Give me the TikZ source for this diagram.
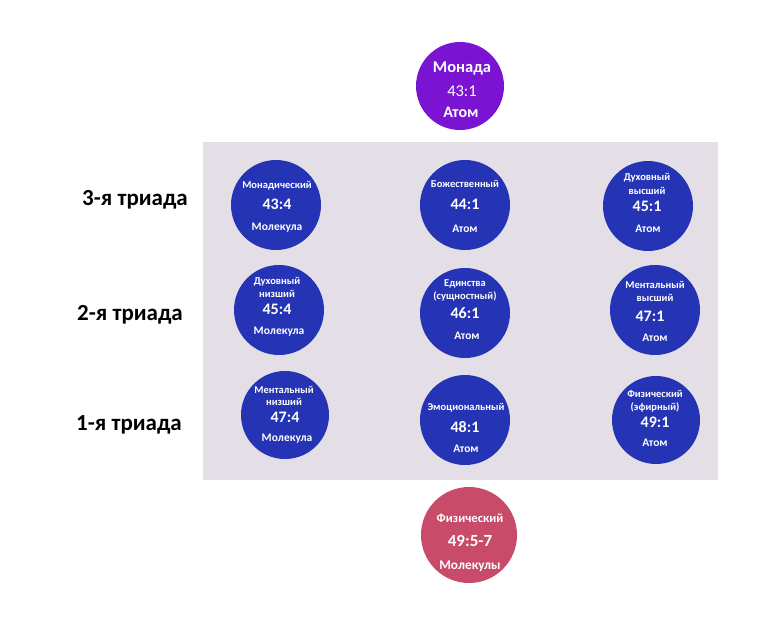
\documentclass[tikz,border=0pt]{standalone}
\usepackage{fontspec}
\setmainfont{Carlito}
\definecolor{blueC}{RGB}{36,52,180}
\definecolor{purpC}{RGB}{122,20,210}
\definecolor{roseC}{RGB}{200,75,106}
\definecolor{bgC}{RGB}{228,222,230}
\begin{document}
\begin{tikzpicture}[x=1pt,y=-1pt,
  bc/.style={circle,fill=blueC,draw=none,inner sep=0,minimum size=90pt},
  tx/.style={text=white,inner sep=0,text depth=0pt,text height=0.64em,anchor=center},
  nm/.style={tx,font=\bfseries\fontsize{10.5}{10.5}\selectfont},
  bt/.style={tx,yshift=-1pt,font=\bfseries\fontsize{11.5}{11.5}\selectfont},
  num/.style={tx,yshift=-2pt,font=\bfseries\fontsize{16}{16}\selectfont},
  lbl/.style={inner sep=0,yshift=-3.5pt,text depth=0pt,text height=0.64em,font=\bfseries\fontsize{23}{23}\selectfont},
  ]
\useasboundingbox (0,0) rectangle (768,629);
\fill[bgC] (203,142) rectangle (718,480);
% Monada
\node[circle,fill=purpC,inner sep=0,minimum size=88pt] (mon) at (460,86) {};
\node[tx,yshift=-2pt,font=\bfseries\fontsize{16.5}{16.5}\selectfont] (mona) at (462,67) {Монада};
\node[tx,yshift=-2pt,font=\fontsize{16.5}{16.5}\selectfont] (monn) at (462,91) {43:1};
\node[tx,yshift=-2pt,font=\bfseries\fontsize{16}{16}\selectfont] (monb) at (461,112) {Атом};
% labels
\node[lbl] (t3) at (135,199) {3-я триада};
\node[lbl] (t2) at (130,314) {2-я триада};
\node[lbl] (t1) at (129,424) {1-я триада};
% row 3
\node[bc] (c31) at (276,205) {};
\node[nm] (c31a) at (277,185) {Монадический};
\node[num] (c31n) at (277,204) {43:4};
\node[bt] (c31b) at (277,226) {Молекула};
\node[bc] (c32) at (465,205) {};
\node[nm] (c32a) at (465,184) {Божественный};
\node[num] (c32n) at (465,204) {44:1};
\node[bt] (c32b) at (465,228) {Атом};
\node[bc] (c33) at (648,206) {};
\node[nm] (c33a) at (647,177) {Духовный};
\node[nm] (c33b) at (647,191) {высший};
\node[num] (c33n) at (647,206) {45:1};
\node[bt] (c33c) at (648,228) {Атом};
% row 2
\node[bc] (c21) at (279,310) {};
\node[nm] (c21a) at (277,281) {Духовный};
\node[nm] (c21b) at (277,294) {низший};
\node[num] (c21n) at (277,309) {45:4};
\node[bt] (c21c) at (279,330) {Молекула};
\node[bc] (c22) at (465,313) {};
\node[nm] (c22a) at (465,283) {Единства};
\node[nm] (c22b) at (465,296) {(сущностный)};
\node[num] (c22n) at (465,313) {46:1};
\node[bt] (c22c) at (467,335) {Атом};
\node[bc] (c23) at (655,310) {};
\node[nm] (c23a) at (655,285) {Ментальный};
\node[nm] (c23b) at (655,298) {высший};
\node[num] (c23n) at (650,316) {47:1};
\node[bt] (c23c) at (655,337) {Атом};
% row 1
\node[bc,minimum size=88pt] (c11) at (285,415) {};
\node[nm] (c11a) at (284,390) {Ментальный};
\node[nm] (c11b) at (284,402) {низший};
\node[num] (c11n) at (285,417) {47:4};
\node[bt] (c11c) at (287,437) {Молекула};
\node[bc] (c12) at (465,420) {};
\node[nm] (c12a) at (466,407) {Эмоциональный};
\node[num] (c12n) at (465,427) {48:1};
\node[bt] (c12c) at (466,448) {Атом};
\node[bc,minimum size=88pt] (c13) at (656,420) {};
\node[nm] (c13a) at (655,394) {Физический};
\node[nm] (c13b) at (655,407) {(эфирный)};
\node[num] (c13n) at (655,422) {49:1};
\node[bt] (c13c) at (655,442) {Атом};
% bottom
\node[circle,fill=roseC,inner sep=0,minimum size=96pt] (phy) at (469,535) {};
\node[tx,yshift=-1pt,font=\bfseries\fontsize{12.6}{12.6}\selectfont] (phya) at (470,518) {Физический};
\node[tx,yshift=-2pt,font=\bfseries\fontsize{17}{17}\selectfont] (phyn) at (470,541) {49:5-7};
\node[tx,yshift=-2pt,font=\bfseries\fontsize{13.3}{13.3}\selectfont] (phyb) at (470,564) {Молекулы};
\end{tikzpicture}
\end{document}
